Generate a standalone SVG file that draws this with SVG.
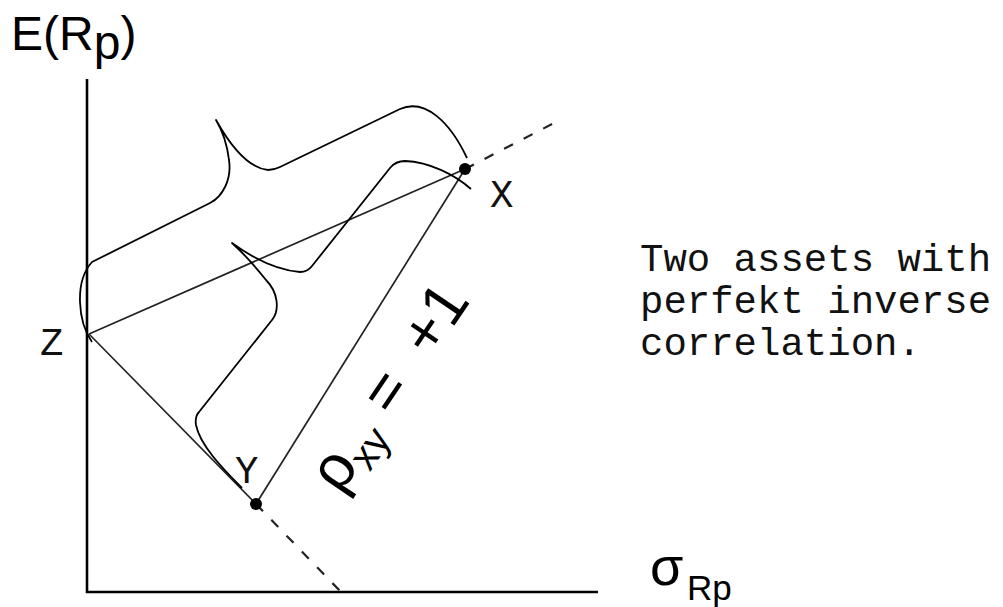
<svg xmlns="http://www.w3.org/2000/svg" width="1003" height="607" viewBox="0 0 1003 607">
<style>
.sans{font-family:"Liberation Sans",Arial,sans-serif;fill:#000}
.mono{font-family:"Courier New","Liberation Mono",monospace;font-size:39px;fill:#111}
.ln{stroke:#222;stroke-width:1.7;fill:none}
.dash{stroke:#222;stroke-width:2.2;fill:none;stroke-dasharray:10 12}
.brace{stroke:#000;stroke-width:1.8;fill:none;stroke-linejoin:round}
.axis{stroke:#000;stroke-width:2.6;fill:none}
</style>
<rect width="1003" height="607" fill="#fff"/>
<g id="axes">
<path class="axis" d="M87 79 V592 H598"/>
<text class="sans" x="11" y="50" font-size="48">E(R<tspan dy="9">p</tspan><tspan dy="-9">)</tspan></text>
<text class="sans" x="650" y="585" font-size="54">σ</text>
<text class="sans" x="687" y="600" font-size="35">Rp</text>
</g>
<g id="connectors">
<line class="ln" x1="89" y1="334" x2="465" y2="169"/>
<line class="ln" x1="89" y1="334" x2="256" y2="504"/>
<line class="ln" x1="256" y1="504" x2="465" y2="169"/>
<line class="dash" x1="465" y1="169" x2="556" y2="122"/>
<line class="dash" x1="256" y1="504" x2="341" y2="592"/>
</g>
<g id="braces">
<path class="brace" d="M92 342 C78 322 74 282 92 262 L210 203 C222 197 232 180 229 160 C227 143 222 130 216 120 C230 145 248 168 268 170 C272 170 276 169 280 167 L400 109 C425 98 450 122 467 158"/>
<path class="brace" d="M242 488 C222 468 200 445 196 425 C195 418 196 415 199 412 L272 320 C280 310 278 292 266 280 C255 266 243 253 232 243 C250 256 275 270 300 272 C306 272 309 270 312 266 L390 168 C394 163 398 161 405 161 C430 162 455 175 471 189"/>
</g>
<g id="node-Z">
<text class="mono" x="40" y="355">Z</text>
</g>
<g id="node-X">
<circle cx="465" cy="169" r="6" fill="#000"/>
<text class="mono" x="490" y="207">X</text>
</g>
<g id="node-Y">
<circle cx="256" cy="504" r="6" fill="#000"/>
<text class="mono" x="235" y="483">Y</text>
</g>
<g id="label-rho" transform="translate(471,301) rotate(-56)">
<text class="sans" x="-234" y="0" font-size="62">ρ<tspan font-size="40" dy="12">xy</tspan></text>
<text class="sans" x="-122.6" y="0" font-size="62" text-anchor="middle">=</text>
<text class="sans" x="0" y="0" font-size="62" text-anchor="end">+1</text>
</g>
<g id="note">
<text class="mono" x="640" y="271">Two assets with</text>
<text class="mono" x="640" y="313">perfekt inverse</text>
<text class="mono" x="640" y="355">correlation.</text>
</g>
</svg>
